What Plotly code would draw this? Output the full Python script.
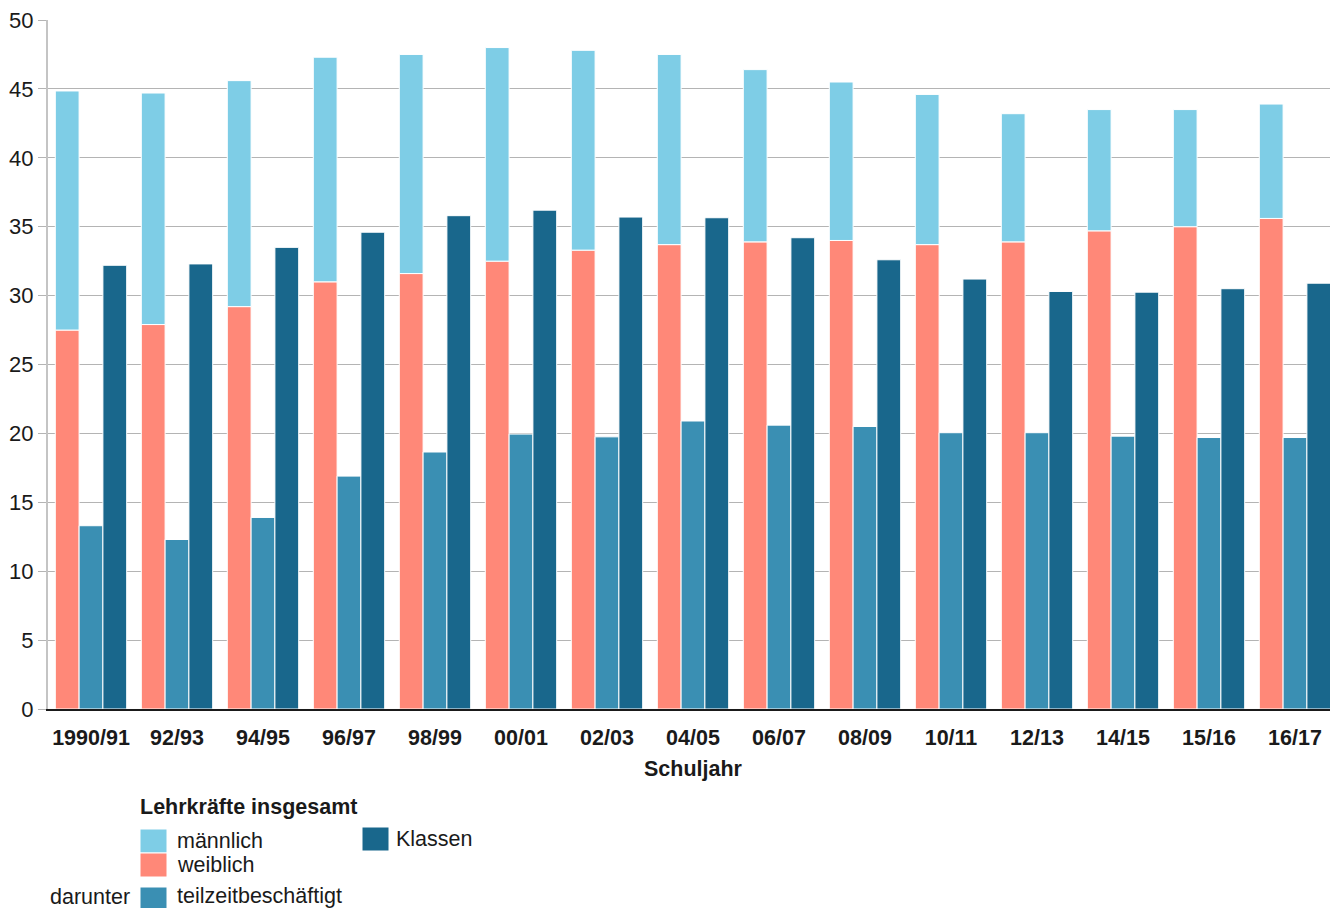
import plotly.graph_objects as go

categories = ["1990/91", "92/93", "94/95", "96/97", "98/99", "00/01", "02/03", "04/05",
              "06/07", "08/09", "10/11", "12/13", "14/15", "15/16", "16/17"]
weiblich = [27.5, 27.9, 29.2, 31.0, 31.6, 32.5, 33.3, 33.7, 33.9, 34.0, 33.7, 33.9, 34.7, 35.0, 35.6]
maennlich = [17.35, 16.8, 16.4, 16.3, 15.9, 15.5, 14.5, 13.8, 12.5, 11.5, 10.9, 9.3, 8.8, 8.5, 8.3]
teilzeit = [13.3, 12.3, 13.9, 16.9, 18.65, 19.95, 19.75, 20.9, 20.6, 20.5, 20.05, 20.05, 19.8, 19.7, 19.7]
klassen = [32.2, 32.3, 33.5, 34.6, 35.8, 36.2, 35.7, 35.65, 34.2, 32.6, 31.2, 30.3, 30.25, 30.5, 30.9]
y_ticks = [0, 5, 10, 15, 20, 25, 30, 35, 40, 45, 50]

C_M = "#7ecde6"
C_W = "#ff8878"
C_T = "#3a8fb3"
C_K = "#19678c"
FONT = "Liberation Sans, Arial, Helvetica, sans-serif"
FS = 21.5

# page has an 8px body margin; figure is sized so the plot area lands where the reference has it
OFF = 8
W, H = 1338 - OFF, 908 - OFF
ML, MR, MT, MB = 48 - OFF, 0, 20 - OFF, 908 - 709
PW = W - ML - MR
PH = H - MT - MB

line = dict(color="white", width=1)
fig = go.Figure()
fig.add_bar(x=categories, y=weiblich, name="weiblich", offsetgroup="a",
            marker=dict(color=C_W, line=line))
fig.add_bar(x=categories, y=maennlich, base=weiblich, name="männlich", offsetgroup="a",
            marker=dict(color=C_M, line=line))
fig.add_bar(x=categories, y=teilzeit, name="teilzeitbeschäftigt", offsetgroup="b",
            marker=dict(color=C_T, line=line))
fig.add_bar(x=categories, y=klassen, name="Klassen", offsetgroup="c",
            marker=dict(color=C_K, line=line))


def px(x):
    return (x - OFF - ML) / PW


def py(y):
    return (H - MB - (y - OFF)) / PH


shapes = []
annotations = []


def legend_box(x0, y0, x1, y1, color):
    shapes.append(dict(type="rect", xref="paper", yref="paper",
                       x0=px(x0), x1=px(x1), y0=py(y1), y1=py(y0),
                       fillcolor=color, line=dict(color="white", width=1)))


def label(x, y, text, anchor="left", bold=False):
    annotations.append(dict(xref="paper", yref="paper", x=px(x), y=py(y),
                            text=text, showarrow=False, xanchor=anchor, yanchor="middle",
                            font=dict(family=FONT, size=FS, color="#1a1a1a",
                                      weight="bold" if bold else "normal")))


label(138, 807, "Lehrkräfte insgesamt", bold=True)
legend_box(140, 829, 167, 853, C_M)
legend_box(140, 853, 167, 877, C_W)
legend_box(140, 887, 167, 911, C_T)
legend_box(362, 827, 389, 851, C_K)
label(175, 841, "männlich")
label(175, 865, "weiblich")
label(175, 896, "teilzeitbeschäftigt")
label(394, 839, "Klassen")
label(132, 897, "darunter", anchor="right")

fig.update_layout(
    width=W, height=H,
    margin=dict(l=ML, r=MR, t=MT, b=MB, autoexpand=False),
    barmode="group", bargap=0.17, bargroupgap=0,
    plot_bgcolor="white", paper_bgcolor="white",
    showlegend=False,
    font=dict(family=FONT, size=FS, color="#1a1a1a"),
    shapes=shapes, annotations=annotations,
    xaxis=dict(showline=True, linecolor="#1a1a1a", linewidth=2, ticks="",
               tickfont=dict(size=FS, weight="bold"), ticklabelstandoff=8,
               title=dict(text="Schuljahr", font=dict(size=FS, weight="bold"), standoff=12)),
    yaxis=dict(range=[0, 50], tickmode="array", tickvals=y_ticks,
               showgrid=True, gridcolor="#b4b4b4", gridwidth=1,
               showline=True, linecolor="#c4c4c4", linewidth=2,
               ticks="outside", ticklen=8, tickcolor="#b4b4b4",
               ticklabeloverflow="allow",
               tickfont=dict(size=22), zeroline=False),
)

fig.write_html("out.html")
